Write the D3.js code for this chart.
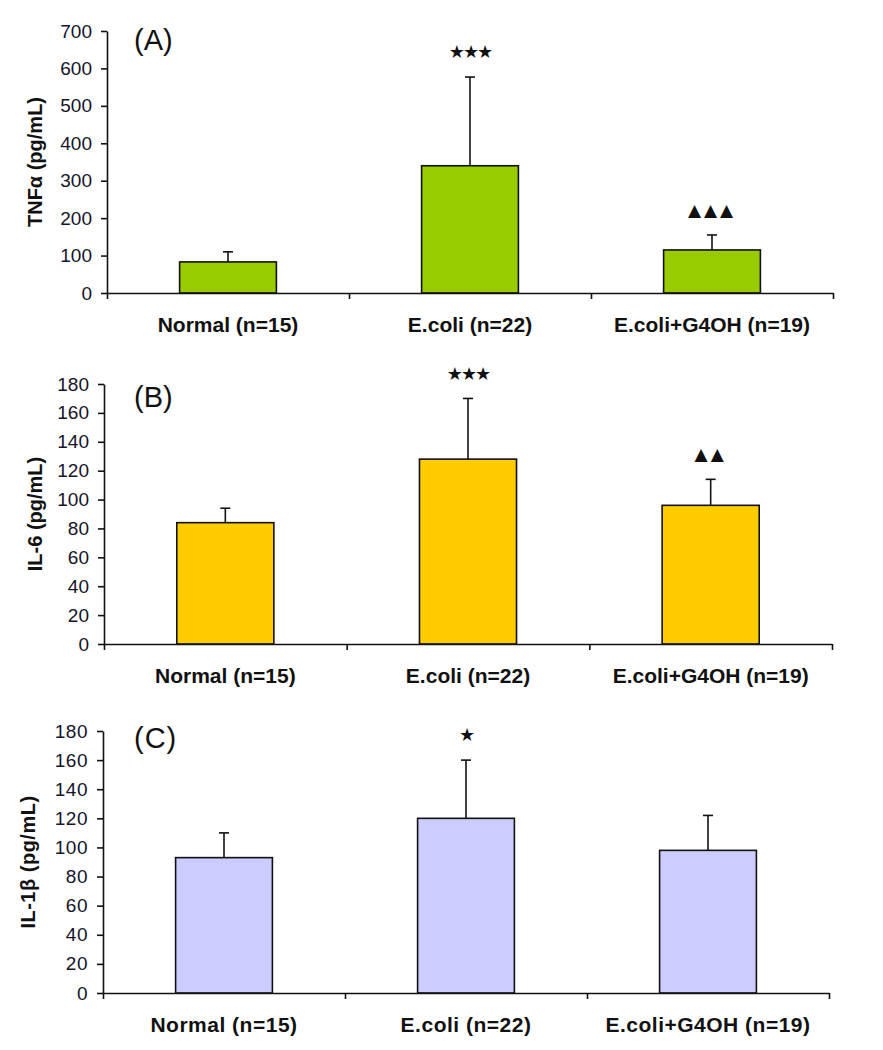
<!DOCTYPE html>
<html>
<head>
<meta charset="utf-8">
<script src="https://cdnjs.cloudflare.com/ajax/libs/d3/7.8.5/d3.min.js"></script>
<style>
  body { margin: 0; background: #fff; }
  svg { display: block; font-family: "Liberation Sans", Arial, sans-serif; }
</style>
</head>
<body>
<div id="chart"></div>
<script>
// groups on the x axis (same for all three panels)
var groups = ["Normal (n=15)", "E.coli (n=22)", "E.coli+G4OH (n=19)"];

// (A) TNF-alpha, mean and upper error
var tnfMean = [83, 340, 115];
var tnfErr = [27, 237, 40];
var tnfMarks = ["", "★★★", "▲▲▲"];
var tnfTicks = [0, 100, 200, 300, 400, 500, 600, 700];

// (B) IL-6
var il6Mean = [84, 128, 96];
var il6Err = [10, 42, 18];
var il6Marks = ["", "★★★", "▲▲"];
var il6Ticks = [0, 20, 40, 60, 80, 100, 120, 140, 160, 180];

// (C) IL-1beta
var il1bMean = [93, 120, 98];
var il1bErr = [17, 40, 24];
var il1bMarks = ["", "★", ""];
var il1bTicks = [0, 20, 40, 60, 80, 100, 120, 140, 160, 180];

var svgWidth = 883;
var svgHeight = 1050;

var svg = d3.select("#chart").append("svg")
  .attr("width", svgWidth)
  .attr("height", svgHeight);

// panel frames in page pixels
var panels = [
  { letter: "(A)", title: "TNFα (pg/mL)", mean: tnfMean, err: tnfErr, marks: tnfMarks, ticks: tnfTicks,
    fill: "#99cc00", left: 107, right: 833, top: 31, bottom: 293, titleX: 35, letterY: 50, spacing: 0 },
  { letter: "(B)", title: "IL-6 (pg/mL)", mean: il6Mean, err: il6Err, marks: il6Marks, ticks: il6Ticks,
    fill: "#ffcc00", left: 104, right: 832, top: 384, bottom: 644, titleX: 35, letterY: 407, spacing: 0 },
  { letter: "(C)", title: "IL-1β (pg/mL)", mean: il1bMean, err: il1bErr, marks: il1bMarks, ticks: il1bTicks,
    fill: "#ccccff", left: 103, right: 829, top: 731, bottom: 993, titleX: 28, letterY: 748, spacing: 0.5 }
];

function drawPanel(p) {
  var g = svg.append("g");
  var yMax = p.ticks[p.ticks.length - 1];

  var x = d3.scaleBand()
    .domain(groups)
    .range([p.left, p.right])
    .paddingInner(0.6)
    .paddingOuter(0.3);

  var y = d3.scaleLinear()
    .domain([0, yMax])
    .range([p.bottom, p.top]);

  // boundary ticks between categories
  var xEdge = d3.scaleLinear().domain([0, groups.length]).range([p.left, p.right]);

  var rows = groups.map(function(name, i) {
    return { name: name, mean: p.mean[i], err: p.err[i], mark: p.marks[i] };
  });

  // bars
  g.selectAll("rect.bar")
    .data(rows)
    .enter()
    .append("rect")
    .attr("class", "bar")
    .attr("x", d => x(d.name))
    .attr("y", d => y(d.mean))
    .attr("width", x.bandwidth())
    .attr("height", d => y(0) - y(d.mean))
    .attr("fill", p.fill)
    .attr("stroke", "#111")
    .attr("stroke-width", 1.6);

  // error bars (upper only)
  var cx = d => x(d.name) + x.bandwidth() / 2;
  g.selectAll("line.err")
    .data(rows)
    .enter()
    .append("line")
    .attr("class", "err")
    .attr("x1", cx)
    .attr("x2", cx)
    .attr("y1", d => y(d.mean))
    .attr("y2", d => y(d.mean + d.err))
    .attr("stroke", "#111")
    .attr("stroke-width", 1.6);

  g.selectAll("line.cap")
    .data(rows)
    .enter()
    .append("line")
    .attr("class", "cap")
    .attr("x1", d => cx(d) - 5)
    .attr("x2", d => cx(d) + 5)
    .attr("y1", d => y(d.mean + d.err))
    .attr("y2", d => y(d.mean + d.err))
    .attr("stroke", "#111")
    .attr("stroke-width", 1.6);

  // significance marks
  g.selectAll("text.mark")
    .data(rows.filter(d => d.mark !== ""))
    .enter()
    .append("text")
    .attr("class", "mark")
    .attr("x", cx)
    .attr("y", d => y(d.mean + d.err) - 25)
    .attr("dy", "0.35em")
    .attr("text-anchor", "middle")
    .style("font-family", "'DejaVu Sans', sans-serif")
    .style("font-size", d => d.mark.indexOf("▲") >= 0 ? "17px" : "18px")
    .style("letter-spacing", d => d.mark.indexOf("▲") >= 0 ? "3px" : "-2px")
    .attr("fill", "#111")
    .text(d => d.mark);

  // y axis
  var yAxis = g.append("g")
    .attr("transform", `translate(${p.left}, 0)`)
    .call(d3.axisLeft(y).tickValues(p.ticks).tickSize(6).tickPadding(9).tickSizeOuter(0));
  yAxis.selectAll("path, line").attr("stroke", "#111").attr("stroke-width", 1.6);
  yAxis.selectAll("text")
    .style("font-size", "19px")
    .style("letter-spacing", p.spacing + "px")
    .attr("fill", "#14142a");

  // x axis line with category boundary ticks
  var xAxis = g.append("g")
    .attr("transform", `translate(0, ${p.bottom})`)
    .call(d3.axisBottom(xEdge).tickValues(d3.range(groups.length + 1)).tickSize(6).tickSizeOuter(0).tickFormat(""));
  xAxis.selectAll("path, line").attr("stroke", "#111").attr("stroke-width", 1.6);

  // category labels
  var xLabels = g.append("g")
    .attr("transform", `translate(0, ${p.bottom})`)
    .call(d3.axisBottom(x).tickSize(0));
  xLabels.select(".domain").remove();
  xLabels.selectAll("text")
    .attr("y", 39)
    .attr("dy", "0")
    .style("font-size", "21px")
    .style("font-weight", "bold")
    .style("letter-spacing", p.spacing + "px")
    .attr("fill", "#111");

  // y axis title
  g.append("text")
    .attr("transform", `translate(${p.titleX}, ${(p.top + p.bottom) / 2}) rotate(-90)`)
    .attr("dy", "0.35em")
    .attr("text-anchor", "middle")
    .style("font-size", "20px")
    .style("font-weight", "bold")
    .style("letter-spacing", p.spacing + "px")
    .attr("fill", "#111")
    .text(p.title);

  // panel letter
  g.append("text")
    .attr("x", 134)
    .attr("y", p.letterY)
    .style("font-size", "29px")
    .style("letter-spacing", p.spacing * 2 + "px")
    .attr("fill", "#111")
    .text(p.letter);
}

panels.forEach(drawPanel);
</script>
</body>
</html>
